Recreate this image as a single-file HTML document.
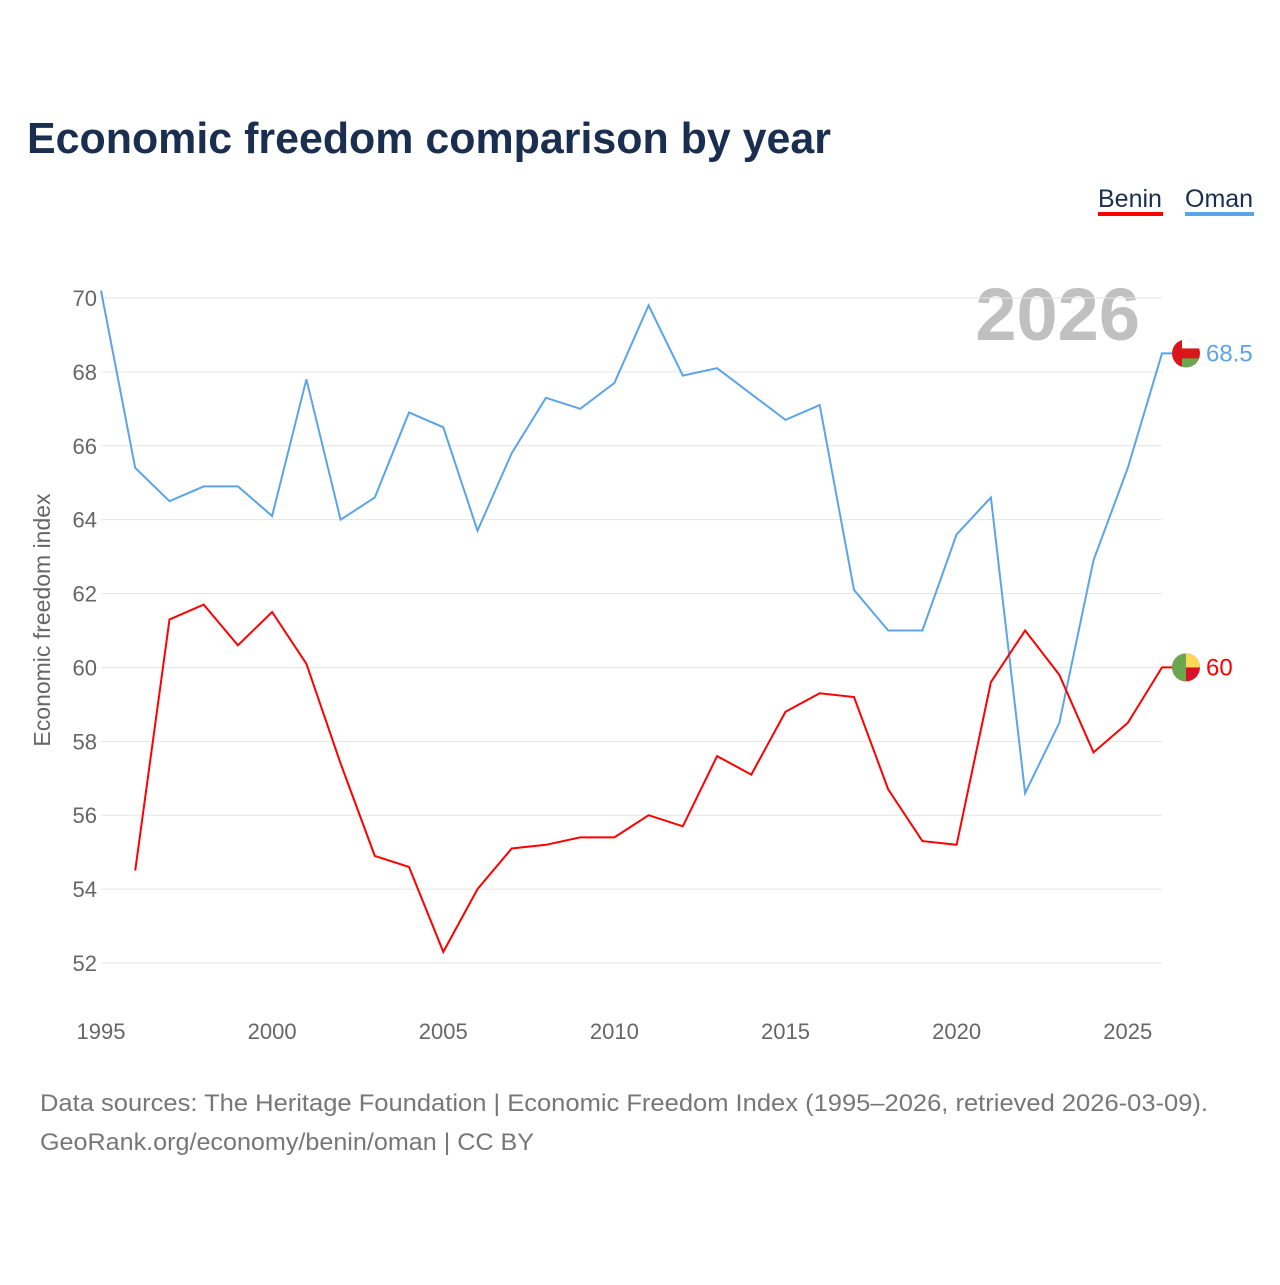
<!DOCTYPE html>
<html><head><meta charset="utf-8">
<style>
body{margin:0;background:#fff;font-family:"Liberation Sans",sans-serif;}
#wrap{position:relative;width:1280px;height:1280px;}
</style></head>
<body>
<div id="wrap">
<svg id="chart" width="1280" height="1280" xmlns="http://www.w3.org/2000/svg">
<text x="27" y="153" font-size="44" font-weight="bold" fill="#1a2e4f" textLength="804" lengthAdjust="spacingAndGlyphs">Economic freedom comparison by year</text>
<g>
<text x="1098" y="207" font-size="25" fill="#1a2e4f">Benin</text>
<rect x="1098" y="212" width="65" height="4" fill="#ff0000"/>
<text x="1185" y="207" font-size="25" fill="#1a2e4f">Oman</text>
<rect x="1185" y="212" width="69" height="4" fill="#5ba4e8"/>
</g>
<text x="1140" y="340" font-size="74" font-weight="bold" fill="#c0c0c0" text-anchor="end">2026</text>
<g id="grid"></g>
<g id="yticks"></g>
<g id="xticks"></g>
<text transform="translate(50,620) rotate(-90)" font-size="23" fill="#666" text-anchor="middle">Economic freedom index</text>
<g id="lines"></g>
<text x="40" y="1111" font-size="24" fill="#777" textLength="1168" lengthAdjust="spacingAndGlyphs">Data sources: The Heritage Foundation | Economic Freedom Index (1995–2026, retrieved 2026-03-09).</text>
<text x="40" y="1150" font-size="24" fill="#777" textLength="494" lengthAdjust="spacingAndGlyphs">GeoRank.org/economy/benin/oman | CC BY</text>
</svg>
</div>
<script>
const years = [1995,1996,1997,1998,1999,2000,2001,2002,2003,2004,2005,2006,2007,2008,2009,2010,2011,2012,2013,2014,2015,2016,2017,2018,2019,2020,2021,2022,2023,2024,2025,2026];
const omanValues = [70.2,65.4,64.5,64.9,64.9,64.1,67.8,64.0,64.6,66.9,66.5,63.7,65.8,67.3,67.0,67.7,69.8,67.9,68.1,67.4,66.7,67.1,62.1,61.0,61.0,63.6,64.6,56.6,58.5,62.9,65.4,68.5];
const beninValues = [null,54.5,61.3,61.7,60.6,61.5,60.1,57.4,54.9,54.6,52.3,54.0,55.1,55.2,55.4,55.4,56.0,55.7,57.6,57.1,58.8,59.3,59.2,56.7,55.3,55.2,59.6,61.0,59.8,57.7,58.5,60.0];
const yTickLabels = [52,54,56,58,60,62,64,66,68,70];
const xTickLabels = [1995,2000,2005,2010,2015,2020,2025];

const NS="http://www.w3.org/2000/svg";
const X = y => 101 + (y-1995)*(1162-101)/31;
const Y = v => 298 + (70-v)*(963-298)/18;
function mk(tag, attrs, parent){const e=document.createElementNS(NS,tag);for(const k in attrs)e.setAttribute(k,attrs[k]);parent.appendChild(e);return e;}

const grid=document.getElementById('grid'), yt=document.getElementById('yticks'), xt=document.getElementById('xticks'), lines=document.getElementById('lines');
yTickLabels.forEach(v=>{
  const l=mk('line',{x1:101,x2:1162,y1:Y(v),y2:Y(v),stroke:'#e6e6e6','stroke-width':1},grid);
  
  
  const t=mk('text',{x:97,y:Y(v)+8,'font-size':22,fill:'#666','text-anchor':'end'},yt);
  t.textContent=v;
  
  
});
xTickLabels.forEach(y=>{
  const t=mk('text',{x:X(y),y:1039,'font-size':22,fill:'#666','text-anchor':'middle'},xt);
  t.textContent=y;
  
  
});
function drawSeries(vals,color,name){
  let d='';let started=false;
  vals.forEach((v,i)=>{if(v==null)return;d+=(started?'L':'M')+X(years[i]).toFixed(1)+','+Y(v).toFixed(1);started=true;});
  const last=vals[vals.length-1];
  d+='L1172,'+Y(last).toFixed(1);
  const p=mk('path',{d:d,fill:'none',stroke:color,'stroke-width':2},lines);
  
  
  const t=mk('text',{x:1206,y:Y(last)+8,'font-size':24,fill:color},lines);
  t.textContent=String(last);
  
  
  return last;
}
const oLast=drawSeries(omanValues,'#5ba4e8','oman');
const bLast=drawSeries(beninValues,'#ff0000','benin');
function flag(cy,name,parts){
  const g=mk('g',{},lines);
  
  
  const cid='c'+name;
  const cp=mk('clipPath',{id:cid},g);mk('circle',{cx:1186,cy:cy,r:14},cp);
  const gg=mk('g',{'clip-path':'url(#'+cid+')'},g);
  parts.forEach(p=>mk('rect',{x:1172+p[0],y:cy-14+p[1],width:p[2],height:p[3],fill:p[4]},gg));
}
flag(Y(oLast),'oman',[[0,0,28,28,'#db161b'],[10,0,18,9,'#ffffff'],[10,19,18,9,'#6aa84f']]);
flag(Y(bLast),'benin',[[0,0,28,28,'#d8102a'],[14,0,14,14,'#fcd856'],[0,0,14,28,'#6aa84f']]);
</script>
</body></html>
